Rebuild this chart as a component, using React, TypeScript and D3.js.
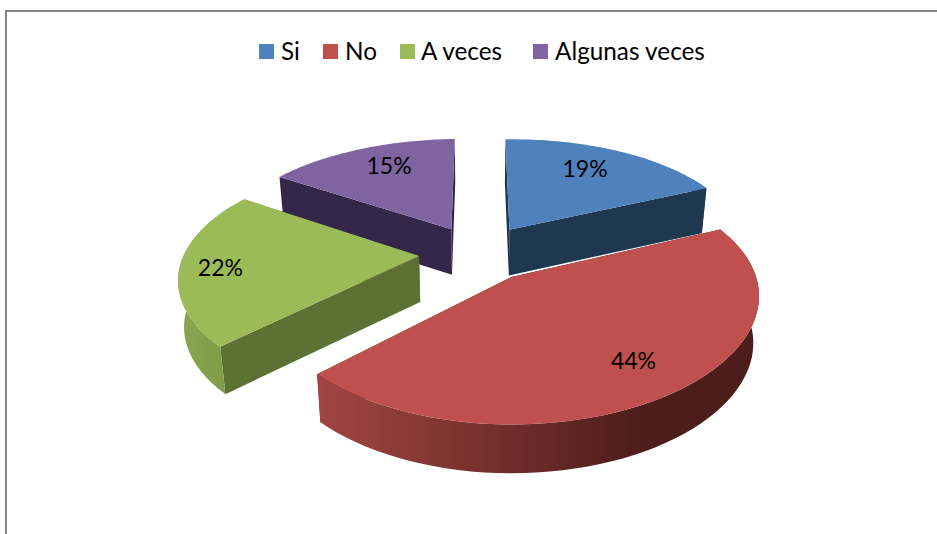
import React from "react";
import * as d3 from "d3";

const categories = ["Si", "No", "A veces", "Algunas veces"];
const values = [18.5, 44.4, 21.6, 15.4];
const topColors = ["#4f81bd", "#c0504d", "#9bbb59", "#8064a2"];
const faceColors = ["#203750", "#4d1d1b", "#5e7134", "#34274a"];
const labelFractions = [0.74, 0.76, 0.83, 0.76];
const labelAngleShift = [-3, -2, -1, 3.5];
const explodes = [0.25, 0.25, 0.25, 0.25];
const legendSwatchX = [259, 323, 400, 533];
const legendTextX = [281, 345, 421, 555];

const W = 937, H = 534;
const VX = 478, VY = 253, R = 236, RY = 113, P = 0.17, PX = 0.15, DEPTH = 46, K = 0.98, TILT = 0.012;

type Pt = [number, number];

function project(X: number, Y: number, bottom = false): Pt {
  const w = 1 / (1 - P * Y);
  const wx = 1 / (1 - PX * Y);
  const sx = X * R * wx;
  const sy = Y * RY * w - TILT * sx;
  if (!bottom) return [VX + sx, VY + sy];
  return [VX + sx * K, VY + sy * K + DEPTH * Math.pow(w, 0.55)];
}

const line = d3.line<Pt>();
const pieArcs = d3.pie<number>().sort(null)(values);

function slicePoint(a: any, ang: number, f = 1, bottom = false): Pt {
  const mid = (a.startAngle + a.endAngle) / 2;
  const e = explodes[a.index];
  const cx = e * Math.sin(mid);
  const cy = -e * Math.cos(mid);
  return project(cx + f * Math.sin(ang), cy - f * Math.cos(ang), bottom);
}

function arcAngles(a0: number, a1: number): number[] {
  return d3.range(0, 61).map((i) => a0 + ((a1 - a0) * i) / 60);
}

const rad = (d: number) => (d * Math.PI) / 180;

export default function App() {
  const order = [0, 3, 2, 1];
  return (
    <svg width={W} height={H} style={{ position: "absolute", left: 0, top: 0, background: "#fff" }}>
      <defs>
        <linearGradient id="redSide" gradientUnits="userSpaceOnUse" x1={321} x2={640} y1={0} y2={0}>
          <stop offset="0" stopColor="#a04541" />
          <stop offset="1" stopColor="#4d1d1b" />
        </linearGradient>
        <linearGradient id="greenSide" gradientUnits="userSpaceOnUse" x1={177} x2={230} y1={0} y2={0}>
          <stop offset="0" stopColor="#8aa850" />
          <stop offset="1" stopColor="#7d9a48" />
        </linearGradient>
      </defs>
      <path d="M6 534V11H937" fill="none" stroke="#868686" strokeWidth={2} />

      {order.map((i) => {
        const a = pieArcs[i];
        const angs = arcAngles(a.startAngle, a.endAngle);
        const topPts: Pt[] = [slicePoint(a, a.startAngle, 0), ...angs.map((t) => slicePoint(a, t))];
        const face = (ang: number): Pt[] => [
          slicePoint(a, ang, 0),
          slicePoint(a, ang),
          slicePoint(a, ang, 1, true),
          slicePoint(a, ang, 0, true),
        ];
        const s0 = Math.max(a.startAngle, rad(60));
        const s1 = Math.min(a.endAngle, rad(300));
        const sideAngs = s1 > s0 ? arcAngles(s0, s1) : [];
        const sidePts: Pt[] = [
          ...sideAngs.map((t) => slicePoint(a, t)),
          ...sideAngs.slice().reverse().map((t) => slicePoint(a, t, 1, true)),
        ];
        const sideFill = i === 1 ? "url(#redSide)" : i === 2 ? "url(#greenSide)" : faceColors[i];
        return (
          <g key={categories[i]}>
            <path d={line(face(a.startAngle))! + "Z"} fill={faceColors[i]} />
            <path d={line(face(a.endAngle))! + "Z"} fill={faceColors[i]} />
            {sidePts.length > 0 && <path d={line(sidePts)! + "Z"} fill={sideFill} />}
            <path d={line(topPts)! + "Z"} fill={topColors[i]} />
          </g>
        );
      })}

      {pieArcs.map((a, i) => {
        const mid = (a.startAngle + a.endAngle) / 2 + rad(labelAngleShift[i]);
        const [x, y] = slicePoint(a, mid, labelFractions[i]);
        return (
          <text key={i} x={x} y={y} textAnchor="middle" dominantBaseline="central"
            fontFamily="Lato, 'Open Sans', sans-serif" fontSize={23} fill="#000">
            {Math.round(values[i])}%
          </text>
        );
      })}

      {categories.map((c, i) => (
        <g key={c}>
          <rect x={legendSwatchX[i]} y={44} width={15} height={15} fill={topColors[i]} />
          <text x={legendTextX[i]} y={60} fontFamily="Lato, 'Open Sans', sans-serif" fontSize={24.3} fill="#000">
            {c}
          </text>
        </g>
      ))}
    </svg>
  );
}
